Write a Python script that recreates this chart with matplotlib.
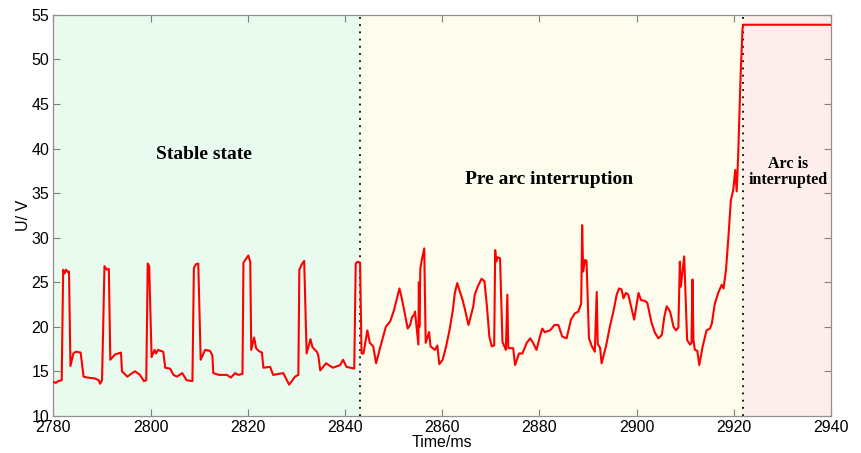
import matplotlib
matplotlib.use("Agg")
from matplotlib import pyplot as plt

# voltage trace (time in ms, voltage in V)
time_ms = [2780.0, 2780.5, 2781.0, 2781.7, 2782.0, 2782.3, 2782.6, 2783.0, 2783.2, 2783.5,
           2784.1, 2784.6, 2785.6, 2786.2, 2787.0, 2788.5, 2789.3, 2789.6, 2790.0, 2790.5,
           2791.0, 2791.4, 2791.7, 2792.7, 2793.9, 2794.1, 2795.2, 2796.2, 2796.8, 2797.8,
           2798.6, 2799.1, 2799.4, 2799.7, 2800.2, 2800.8, 2801.1, 2801.5, 2802.6, 2803.0,
           2804.0, 2804.7, 2805.4, 2806.5, 2807.4, 2808.6, 2808.9, 2809.3, 2809.8, 2810.3,
           2811.2, 2812.2, 2812.7, 2812.9, 2814.0, 2815.7, 2816.5, 2817.4, 2818.0, 2818.9,
           2819.1, 2819.6, 2820.1, 2820.5, 2820.7, 2821.3, 2821.7, 2822.2, 2822.9, 2823.2,
           2824.6, 2825.2, 2827.3, 2828.5, 2829.7, 2830.4, 2830.6, 2831.1, 2831.6, 2832.1,
           2832.9, 2833.3, 2834.2, 2834.5, 2834.9, 2836.1, 2837.5, 2839.0, 2839.6, 2840.3,
           2841.9, 2842.2, 2842.6, 2843.1, 2843.4, 2843.8, 2844.6, 2845.1, 2845.8, 2846.4,
           2847.3, 2848.4, 2849.3, 2850.1, 2851.2, 2851.6, 2852.3, 2852.9, 2853.4, 2853.8,
           2854.2, 2854.4, 2855.1, 2855.2, 2855.3, 2855.5, 2855.8, 2856.3, 2856.6, 2857.3,
           2857.6, 2858.5, 2859.0, 2859.4, 2860.1, 2860.8, 2861.5, 2862.2, 2862.6, 2863.1,
           2863.6, 2864.2, 2864.7, 2865.4, 2865.7, 2866.4, 2866.7, 2867.3, 2868.1, 2868.7,
           2869.2, 2869.7, 2870.2, 2870.7, 2870.9, 2871.1, 2871.4, 2871.9, 2872.4, 2873.1,
           2873.4, 2873.6, 2874.6, 2875.0, 2875.8, 2876.5, 2877.4, 2878.1, 2878.7, 2879.4,
           2880.1, 2880.6, 2881.1, 2882.2, 2883.1, 2883.9, 2884.7, 2885.6, 2886.5, 2887.3,
           2888.0, 2888.6, 2888.8, 2889.0, 2889.4, 2889.7, 2890.2, 2890.8, 2891.4, 2891.8,
           2892.0, 2892.5, 2892.8, 2893.7, 2894.5, 2895.3, 2895.9, 2896.4, 2896.9, 2897.3,
           2897.8, 2898.3, 2899.5, 2900.4, 2900.9, 2901.7, 2902.2, 2903.1, 2903.8, 2904.5,
           2905.2, 2905.7, 2906.2, 2906.9, 2907.6, 2908.1, 2908.6, 2908.9, 2909.1, 2909.8,
           2910.4, 2911.0, 2911.3, 2911.5, 2911.7, 2912.0, 2912.5, 2912.9, 2913.6, 2914.4,
           2915.1, 2915.5, 2916.1, 2916.8, 2917.5, 2917.9, 2918.4, 2918.9, 2919.4, 2919.9,
           2920.3, 2920.6, 2920.9, 2921.4, 2921.8, 2922.0, 2940.0]
voltage_v = [13.8, 13.7, 13.9, 14.0, 26.4, 26.0, 26.4, 26.1, 26.2, 15.6,
             17.0, 17.2, 17.1, 14.4, 14.3, 14.2, 14.0, 13.6, 14.0, 26.8,
             26.4, 26.5, 16.3, 16.9, 17.1, 15.0, 14.4, 14.8, 15.0, 14.6,
             13.9, 14.0, 27.1, 26.8, 16.6, 17.4, 17.0, 17.4, 17.2, 15.4,
             15.3, 14.6, 14.4, 14.8, 14.0, 13.9, 26.6, 27.0, 27.1, 16.3,
             17.4, 17.3, 16.8, 14.8, 14.6, 14.6, 14.3, 14.8, 14.6, 14.7,
             27.2, 27.6, 28.0, 27.3, 17.4, 18.8, 17.6, 17.3, 17.1, 15.4,
             15.5, 14.6, 14.8, 13.5, 14.4, 14.6, 26.4, 27.0, 27.4, 17.0,
             18.6, 17.7, 17.2, 16.8, 15.1, 15.9, 15.4, 15.7, 16.3, 15.5,
             15.3, 27.1, 27.3, 27.2, 17.0, 17.0, 19.6, 18.2, 17.8, 15.9,
             17.8, 20.0, 20.6, 21.9, 24.3, 23.4, 21.5, 19.8, 20.2, 21.1,
             21.3, 21.7, 18.0, 25.0, 20.0, 26.5, 27.5, 28.8, 18.2, 19.4,
             17.8, 17.4, 17.9, 15.8, 16.3, 17.8, 19.6, 21.9, 23.8, 24.9,
             24.0, 23.0, 21.9, 20.2, 20.8, 22.3, 23.6, 24.5, 25.4, 25.1,
             22.3, 18.9, 17.8, 17.9, 28.6, 27.3, 27.8, 27.7, 18.3, 17.4,
             23.6, 17.6, 17.6, 15.7, 17.0, 17.0, 18.2, 18.7, 18.2, 17.4,
             18.9, 19.8, 19.4, 19.6, 20.2, 20.2, 18.9, 18.7, 20.8, 21.5,
             21.7, 22.6, 31.4, 26.2, 27.5, 27.4, 18.7, 17.8, 17.2, 23.9,
             18.1, 17.6, 15.9, 17.8, 20.0, 21.9, 23.6, 24.3, 24.2, 23.2,
             23.8, 23.6, 20.8, 23.8, 23.0, 22.9, 22.7, 20.4, 19.3, 18.7,
             19.1, 21.1, 22.3, 21.7, 20.0, 19.6, 19.9, 27.3, 24.5, 27.9,
             18.5, 18.0, 18.2, 25.3, 18.5, 17.4, 17.3, 15.7, 17.8, 19.6,
             19.8, 20.4, 22.6, 23.8, 24.7, 24.3, 26.4, 30.1, 34.2, 35.4,
             37.6, 35.2, 39.1, 48.1, 53.5, 53.9, 53.9]

# phase boundaries (ms) and labels
phase_edges = [2780, 2843, 2922, 2940]
phase_colors = ['#E9FBEE', '#FCFDEC', '#FDEDEB']
phase_labels = ['Stable state', 'Pre arc interruption', 'Arc is\ninterrupted']
label_pos = [(2811, 39.3), (2882, 36.5), (2931.2, 37.4)]
label_size = [14, 14, 11.5]

x_ticks = [2780, 2800, 2820, 2840, 2860, 2880, 2900, 2920, 2940]
y_ticks = [10, 15, 20, 25, 30, 35, 40, 45, 50, 55]

fig = plt.figure(figsize=(8.62, 4.53), dpi=100)
ax = fig.add_axes([0.062, 0.082, 0.902, 0.885])

for i in range(3):
    ax.axvspan(phase_edges[i], phase_edges[i + 1], color=phase_colors[i], lw=0, zorder=0)
for xd in phase_edges[1:3]:
    ax.axvline(xd, color='black', ls=(0, (1, 3)), lw=1.3, zorder=2)

ax.plot(time_ms, voltage_v, color='#FF0000', lw=1.5, zorder=3)

for (tx, ty), lab, fs in zip(label_pos, phase_labels, label_size):
    ax.text(tx, ty, lab, ha='center', va='center', fontsize=fs, fontweight='bold',
            family='Liberation Serif', linespacing=1.0, zorder=4)

ax.set_xlim(2780, 2940)
ax.set_ylim(10, 55)
ax.set_xticks(x_ticks)
ax.set_yticks(y_ticks)
ax.tick_params(direction='in', top=True, right=True, length=5, width=0.8,
               color='#808080', labelsize=11.5, pad=3)
for lab in ax.get_xticklabels() + ax.get_yticklabels():
    lab.set_family('Liberation Sans')
for s in ax.spines.values():
    s.set_color('#909090')
    s.set_linewidth(0.9)

ax.set_xlabel('Time/ms', family='Liberation Sans', fontsize=11.5, labelpad=0)
ax.set_ylabel('U/ V', family='Liberation Sans', fontsize=11.5, labelpad=0)

fig.savefig('out.png', dpi=100)
